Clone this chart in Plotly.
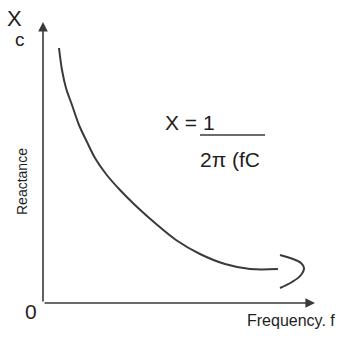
import plotly.graph_objects as go

# Reactance curve (frequency f vs capacitive reactance Xc), arbitrary units
curve_f = [16, 19, 23, 29, 36, 44, 52, 63, 77, 93, 112, 133, 157, 182, 207, 235]
curve_x = [255, 233, 215, 198, 178, 161, 145, 129, 113, 97, 80, 63, 49, 39, 34, 34]
# hook stroke at the end of the curve
hook_f = [237, 250, 258, 261, 258, 249, 237]
hook_x = [48, 44, 40, 35, 28, 21, 15]

x_axis_end = 272
y_axis_end = 281

LINE = "#3a3a3a"
TXT = "#1e1e1e"
FONT = "Liberation Sans, Arial, sans-serif"

fig = go.Figure()
fig.add_trace(go.Scatter(x=curve_f, y=curve_x, mode="lines",
                         line=dict(color=LINE, width=2, shape="spline", smoothing=1.0),
                         hoverinfo="skip"))
fig.add_trace(go.Scatter(x=hook_f, y=hook_x, mode="lines",
                         line=dict(color=LINE, width=2, shape="spline"),
                         hoverinfo="skip"))

ann = []
# axes arrows
ann.append(dict(x=0, y=y_axis_end, ax=0, ay=0, xref="x", yref="y", axref="x", ayref="y",
                showarrow=True, arrowhead=2, arrowsize=1.2, arrowwidth=1.6,
                arrowcolor=LINE, text=""))
ann.append(dict(x=x_axis_end, y=0, ax=0, ay=0, xref="x", yref="y", axref="x", ayref="y",
                showarrow=True, arrowhead=2, arrowsize=1.2, arrowwidth=1.6,
                arrowcolor=LINE, text=""))

def txt(s, x, y, size, angle=0, yanchor="middle"):
    ann.append(dict(x=x, y=y, xref="x", yref="y", text=s, showarrow=False,
                    textangle=angle, font=dict(family=FONT, size=size, color=TXT),
                    xanchor="center", yanchor=yanchor, borderpad=0))

txt("X", -29, 271, 22, yanchor="bottom")
txt("c", -23, 275, 19, yanchor="top")
txt("Reactance", -21, 121, 14, -90)
txt("0", -12, -8, 21)
txt("Frequency. f", 248, -17, 16)
txt("X = 1", 147, 181, 21)
txt("2π (fC", 187, 144, 21)

fig.update_layout(
    annotations=ann,
    shapes=[dict(type="line", x0=157, x1=222, y0=168, y1=168, xref="x", yref="y",
                 line=dict(color=LINE, width=1.5))],
    width=362, height=341,
    margin=dict(l=0, r=0, t=0, b=0),
    paper_bgcolor="white", plot_bgcolor="white",
    showlegend=False,
    xaxis=dict(range=[-43, 319], visible=False, fixedrange=True),
    yaxis=dict(range=[-38, 303], visible=False, fixedrange=True),
)

fig.write_html("out.html")
